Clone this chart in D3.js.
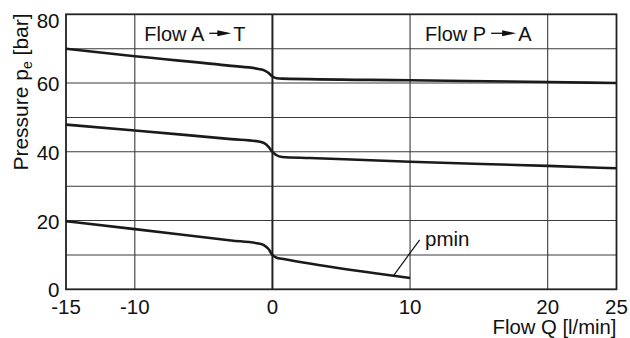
<!DOCTYPE html>
<html>
<head>
<meta charset="utf-8">
<script src="https://cdn.jsdelivr.net/npm/d3@7"></script>
<style>
  html, body { margin: 0; padding: 0; background: #fff; }
  svg { display: block; }
  text { font-family: "Liberation Sans", Arial, Helvetica, sans-serif; fill: #111; }
</style>
</head>
<body>
<svg id="chart" width="630" height="338"></svg>
<script>
// ---- data ----
const xTicks = [-15, -10, 0, 10, 20, 25];
const xGrid = [-10, 0, 10, 20];
const yTicks = [0, 20, 40, 60, 80];
const yGrid = [10, 20, 30, 40, 50, 60, 70];

const upperQ = [-15, -10, -3, -1, -0.6, -0.3, 0, 0.3, 0.7, 10, 20, 25];
const upperP = [70, 67.8, 65.0, 64.1, 63.7, 63.0, 61.9, 61.4, 61.3, 60.8, 60.3, 60.0];

const middleQ = [-15, -10, -3, -1, -0.6, -0.3, 0, 0.3, 0.7, 2.7, 10, 20, 25];
const middleP = [47.9, 46.2, 43.7, 43.0, 42.5, 41.5, 40.0, 39.0, 38.5, 38.2, 37.1, 35.9, 35.2];

const lowerQ = [-15, -10, -3, -1, -0.6, -0.3, 0, 0.3, 0.7, 2.7, 10];
const lowerP = [19.8, 17.5, 14.2, 13.3, 12.8, 11.8, 10.0, 9.2, 8.9, 7.5, 3.3];

const xLabel = "Flow Q [l/min]";
const flowLeft = ["Flow A", "T"];
const flowRight = ["Flow P", "A"];
const pminLabel = "pmin";

// ---- layout ----
const svg = d3.select("#chart");
const x = d3.scaleLinear().domain([-15, 25]).range([66, 616.5]);
const y = d3.scaleLinear().domain([0, 80]).range([289.3, 14.3]);

// grid
svg.append("g").selectAll("line").data(yGrid).join("line")
  .attr("x1", x(-15)).attr("x2", x(25))
  .attr("y1", d => y(d)).attr("y2", d => y(d))
  .attr("stroke", "#3a3a3a").attr("stroke-width", 1.1);
svg.append("g").selectAll("line").data(xGrid).join("line")
  .attr("x1", d => x(d)).attr("x2", d => x(d))
  .attr("y1", y(0)).attr("y2", y(80))
  .attr("stroke", d => d === 0 ? "#222" : "#3a3a3a")
  .attr("stroke-width", d => d === 0 ? 2 : 1.1);

// frame
svg.append("rect")
  .attr("x", x(-15)).attr("y", y(80))
  .attr("width", x(25) - x(-15)).attr("height", y(0) - y(80))
  .attr("fill", "none").attr("stroke", "#222").attr("stroke-width", 1.8);

// x tick labels
svg.append("g").selectAll("text").data(xTicks).join("text")
  .attr("x", d => x(d)).attr("y", 314)
  .attr("text-anchor", "middle").attr("font-size", 20.5)
  .text(d => d);

// y tick labels
svg.append("g").selectAll("text").data(yTicks).join("text")
  .attr("x", 59.5).attr("y", d => Math.max(y(d) + 1, 21))
  .attr("dy", "0.35em")
  .attr("text-anchor", "end").attr("font-size", 20.5)
  .text(d => d);

// axis titles
svg.append("text")
  .attr("x", 616.5).attr("y", 334)
  .attr("text-anchor", "end").attr("font-size", 20.3)
  .text(xLabel);

const yt = svg.append("text")
  .attr("transform", "translate(28,92) rotate(-90)")
  .attr("text-anchor", "middle").attr("font-size", 21);
yt.append("tspan").text("Pressure p");
yt.append("tspan").attr("font-size", 14).attr("dy", 4).text("e");
yt.append("tspan").attr("dy", -4).text(" [bar]");

// curves
const line = d3.line().x(d => x(d[0])).y(d => y(d[1])).curve(d3.curveMonotoneX);
const series = [
  d3.zip(upperQ, upperP),
  d3.zip(middleQ, middleP),
  d3.zip(lowerQ, lowerP)
];
svg.append("g").selectAll("path").data(series).join("path")
  .attr("d", line)
  .attr("fill", "none").attr("stroke", "#1a1a1a")
  .attr("stroke-width", 2.6).attr("stroke-linejoin", "round");

// flow direction labels with arrows
function flowLabel(xStart, words, arrowLen) {
  const g = svg.append("g");
  const t1 = g.append("text").attr("x", xStart).attr("y", 40.5).attr("font-size", 20).text(words[0]);
  const w = t1.node().getComputedTextLength();
  const ax0 = xStart + w + 5;
  const ax1 = ax0 + arrowLen;
  const ay = 33.3;
  g.append("line").attr("x1", ax0).attr("x2", ax1 - 10).attr("y1", ay).attr("y2", ay)
    .attr("stroke", "#111").attr("stroke-width", 1.3);
  g.append("path")
    .attr("d", `M${ax1 - 14},${ay - 3} L${ax1},${ay} L${ax1 - 14},${ay + 3} Z`)
    .attr("fill", "#111");
  g.append("text").attr("x", ax1 + 2).attr("y", 40.5).attr("font-size", 20).text(words[1]);
}
flowLabel(144.3, flowLeft, 22);
flowLabel(425, flowRight, 25);

// pmin annotation
svg.append("line")
  .attr("x1", x(8.8)).attr("y1", y(4.0))
  .attr("x2", x(10.7)).attr("y2", y(14.4))
  .attr("stroke", "#111").attr("stroke-width", 1.2);
svg.append("text").attr("x", 425).attr("y", 246).attr("font-size", 20.5).text(pminLabel);
</script>
</body>
</html>
